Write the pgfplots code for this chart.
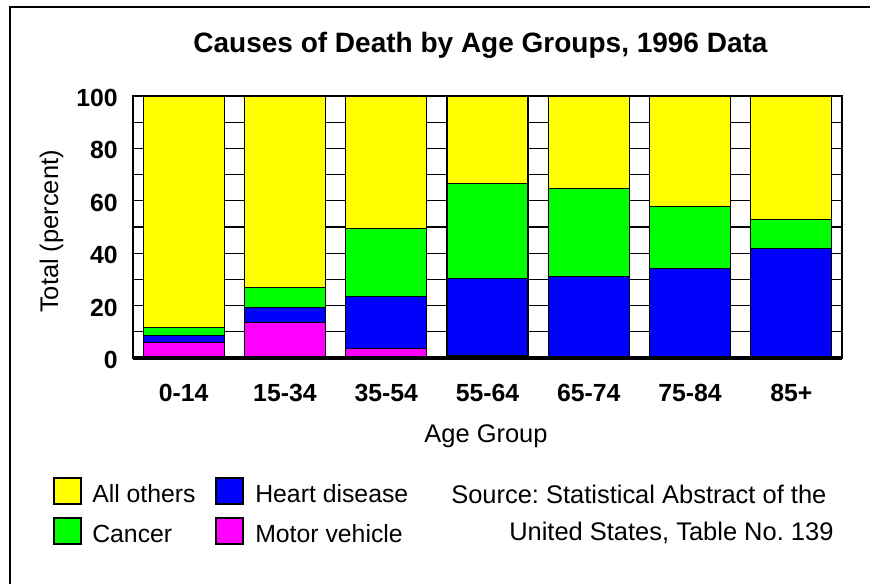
\documentclass[border=0pt]{standalone}
\usepackage{fontspec}
\setmainfont{Liberation Sans}
\usepackage{pgfplots}
\pgfplotsset{compat=1.18}

\definecolor{cOthers}{RGB}{255,255,0}
\definecolor{cCancer}{RGB}{0,255,0}
\definecolor{cHeart}{RGB}{0,0,255}
\definecolor{cMotor}{RGB}{255,0,255}

\newcommand\chartfont{\fontsize{18.6}{21}\selectfont}
\newcommand\labelfont{\fontsize{19.1}{22}\selectfont}
\newcommand\titlefont{\fontsize{21}{24}\selectfont}
\frenchspacing

\begin{document}
\begin{tikzpicture}
\begin{scope}[x=0.75pt,y=-0.75pt]
  \useasboundingbox (0,0) rectangle (870,584);
  % outer frame (only left and top visible)
  \draw[line width=1.4pt] (10,590) -- (10,7) -- (880,7);
  \node[anchor=base,inner sep=0,font=\bfseries\titlefont] at (480.5,53) {Causes of Death by Age Groups, 1996 Data};
  \node[anchor=base,inner sep=0,rotate=90,font=\labelfont] at (58,231.5) {Total (percent)};
  \node[anchor=base,inner sep=0,font=\labelfont] at (486,442) {Age Group};
  % legend
  \draw[fill=cOthers,line width=1pt] (54,478) rectangle (81,504);
  \draw[fill=cCancer,line width=1pt] (54,518) rectangle (81,544);
  \draw[fill=cHeart,line width=1pt] (216,478) rectangle (243,504);
  \draw[fill=cMotor,line width=1pt] (216,518) rectangle (243,544);
  \node[anchor=base west,inner sep=0,font=\chartfont] at (92,502) {All others};
  \node[anchor=base west,inner sep=0,font=\chartfont] at (92,542) {Cancer};
  \node[anchor=base west,inner sep=0,font=\chartfont] at (255,502) {Heart disease};
  \node[anchor=base west,inner sep=0,font=\chartfont] at (255,542) {Motor vehicle};
  % source note
  \node[anchor=base west,inner sep=0,font=\labelfont] at (451,503) {Source: Statistical Abstract of the};
  \node[anchor=base west,inner sep=0,font=\labelfont] at (509,540) {United States, Table No. 139};
\end{scope}

\begin{axis}[
  at={(99.75pt,-268.5pt)}, anchor=south west,
  scale only axis,
  width=531.75pt, height=196.5pt,
  ybar stacked,
  bar width=0.8,
  xmin=-0.5, xmax=6.5,
  ymin=0, ymax=100,
  xtick={0,...,6},
  xticklabels={0-14,15-34,35-54,55-64,65-74,75-84,85+},
  ytick={0,20,...,100},
  minor ytick={10,30,...,90},
  ymajorgrids, yminorgrids,
  major grid style={black,line width=0.8pt},
  minor grid style={black,line width=0.8pt},
  major tick length=0pt, minor tick length=0pt,
  axis line style={line width=1pt},
  /pgf/number format/assume math mode=true,
  xticklabel style={font=\bfseries\chartfont,anchor=base,inner sep=0,yshift=-32.25pt},
  yticklabel style={font=\bfseries\chartfont,anchor=east,inner sep=0,xshift=-11.25pt,yshift=-1.5pt},
  after end axis/.code={
    \draw[line width=2.6pt] (rel axis cs:0,0) -- (rel axis cs:1,0);
  },
]
% stacked from bottom: motor vehicle, heart disease, cancer, all others
\addplot[fill=cMotor,draw=black,line width=0.8pt] coordinates {
  (0,6.0) (1,13.6) (2,3.8) (3,1.0) (4,0.3) (5,0.2) (6,0.1)};
\addplot[fill=cHeart,draw=black,line width=0.8pt] coordinates {
  (0,2.5) (1,5.6) (2,19.7) (3,29.2) (4,30.8) (5,34.1) (6,41.8)};
\addplot[fill=cCancer,draw=black,line width=0.8pt] coordinates {
  (0,3.1) (1,7.6) (2,25.9) (3,36.3) (4,33.5) (5,23.7) (6,10.8)};
\addplot[fill=cOthers,draw=black,line width=0.8pt] coordinates {
  (0,88.4) (1,73.2) (2,50.6) (3,33.5) (4,35.4) (5,42.0) (6,47.3)};
\end{axis}
\end{tikzpicture}
\end{document}
